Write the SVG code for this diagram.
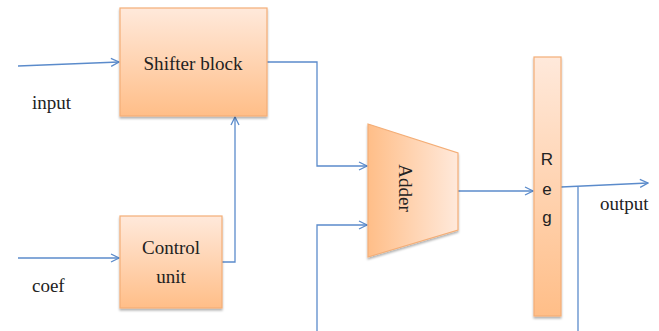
<svg xmlns="http://www.w3.org/2000/svg" width="659" height="331" viewBox="0 0 659 331">
<defs>
<linearGradient id="gv" x1="0" y1="0" x2="0" y2="1">
<stop offset="0" stop-color="#FFE9DB"/><stop offset="1" stop-color="#FFBE88"/>
</linearGradient>
<linearGradient id="gh" x1="0" y1="0" x2="1" y2="0">
<stop offset="0" stop-color="#FFBE88"/><stop offset="1" stop-color="#FFE9DB"/>
</linearGradient>
<filter id="sh" x="-10%" y="-10%" width="130%" height="130%">
<feDropShadow dx="0" dy="2" stdDeviation="1.2" flood-color="#000" flood-opacity="0.3"/>
</filter>
<marker id="ar" viewBox="0 0 10 10" refX="9" refY="5" markerWidth="10" markerHeight="10" markerUnits="userSpaceOnUse" orient="auto">
<path d="M1,1 L9,5 L1,9" fill="none" stroke="#5B8BCB" stroke-width="1.3"/>
</marker>
</defs>
<style>
.blk{stroke:#F4AE77;stroke-width:1.2;filter:url(#sh)}
.ln{fill:none;stroke:#5B8BCB;stroke-width:1.3}
.t{font-family:'Liberation Serif','Times New Roman',serif;font-size:19px;fill:#222}
.s{font-family:'Liberation Sans',Arial,sans-serif;font-size:17px;fill:#222}
</style>
<rect width="659" height="331" fill="#fff"/>
<g id="connectors">
<path class="ln" d="M18,66 L119,62" marker-end="url(#ar)"/>
<path class="ln" d="M18,258 L119,258" marker-end="url(#ar)"/>
<path class="ln" d="M222,262 L235,262 L235,117" marker-end="url(#ar)"/>
<path class="ln" d="M267,62 L317,62 L317,166 L367,166" marker-end="url(#ar)"/>
<path class="ln" d="M317,331 L317,225 L367,225" marker-end="url(#ar)"/>
<path class="ln" d="M458,191 L533,191" marker-end="url(#ar)"/>
<path class="ln" d="M561,187 L648,183" marker-end="url(#ar)"/>
<path class="ln" d="M578,187 L578,331"/>
</g>
<g id="shifter">
<rect class="blk" x="120" y="8" width="147" height="108" fill="url(#gv)"/>
<text class="t" font-family="Liberation Serif, serif" x="193" y="70" text-anchor="middle" textLength="99" lengthAdjust="spacingAndGlyphs">Shifter block</text>
</g>
<g id="control">
<rect class="blk" x="120" y="216" width="102" height="92" fill="url(#gv)"/>
<text class="t" font-family="Liberation Serif, serif" x="171" y="254" text-anchor="middle">Control</text>
<text class="t" font-family="Liberation Serif, serif" x="171" y="283" text-anchor="middle">unit</text>
</g>
<g id="adder">
<polygon class="blk" points="368,124 458,153 458,230 368,257" fill="url(#gh)"/>
<text class="t" font-family="Liberation Serif, serif" x="0" y="0" text-anchor="middle" transform="translate(399,188) rotate(90)">Adder</text>
</g>
<g id="reg">
<rect class="blk" x="534" y="57" width="27" height="259" fill="url(#gv)"/>
<text class="s" x="547" y="165" text-anchor="middle">R</text>
<text class="s" x="547" y="195" text-anchor="middle">e</text>
<text class="s" x="547" y="223" text-anchor="middle">g</text>
</g>
<g id="labels">
<text class="t" font-family="Liberation Serif, serif" x="32" y="109">input</text>
<text class="t" font-family="Liberation Serif, serif" x="32" y="292">coef</text>
<text class="t" font-family="Liberation Serif, serif" x="600" y="210">output</text>
</g>
</svg>
